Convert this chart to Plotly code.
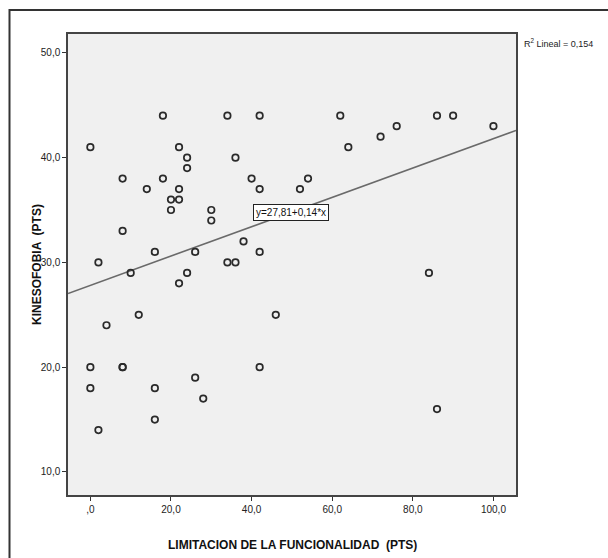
import plotly.graph_objects as go

# Data
limitacion = [0, 0, 0, 2, 2, 4, 8, 8, 8, 8, 10, 12, 14, 16, 16, 16, 18, 18, 20, 20,
              22, 22, 22, 22, 24, 24, 24, 26, 26, 28, 30, 30, 34, 34, 36, 36, 38, 40,
              42, 42, 42, 42, 46, 52, 54, 62, 64, 72, 76, 84, 86, 86, 90, 100]
kinesofobia = [41, 20, 18, 30, 14, 24, 38, 33, 20, 20, 29, 25, 37, 31, 18, 15, 44, 38, 36, 35,
               41, 37, 36, 28, 40, 39, 29, 31, 19, 17, 35, 34, 44, 30, 40, 30, 32, 38,
               44, 37, 31, 20, 25, 37, 38, 44, 41, 42, 43, 29, 44, 16, 44, 43]

intercept = 27.81
slope = 0.14
r2_text = "R<sup>2</sup> Lineal = 0,154"
eq_text = "y=27,81+0,14*x"

x_tickvals = [0, 20, 40, 60, 80, 100]
x_ticktext = [",0", "20,0", "40,0", "60,0", "80,0", "100,0"]
y_tickvals = [10, 20, 30, 40, 50]
y_ticktext = ["10,0", "20,0", "30,0", "40,0", "50,0"]

x_range = [-5.55, 105.6]
y_range = [7.8, 51.8]

fit_x = [x_range[0], x_range[1]]
fit_y = [intercept + slope * v for v in fit_x]

fig = go.Figure()
fig.add_trace(go.Scatter(
    x=fit_x, y=fit_y, mode="lines",
    line=dict(color="#6a6a6a", width=1.6), hoverinfo="skip", showlegend=False))
fig.add_trace(go.Scatter(
    x=limitacion, y=kinesofobia, mode="markers",
    marker=dict(symbol="circle-open", size=6.5, color="#2a2a2a", line=dict(width=1.7)),
    showlegend=False))

tick_font = dict(family="Liberation Sans Narrow, Liberation Sans, Arial", size=10, color="#222")
title_font = dict(family="Liberation Sans, Arial", size=12, color="#111")

fig.update_xaxes(range=x_range, tickvals=x_tickvals, ticktext=x_ticktext,
                 ticks="outside", ticklen=4, tickwidth=1.2, tickcolor="#333",
                 showgrid=False, zeroline=False, showline=True, linecolor="#444",
                 linewidth=1.5, mirror=True, tickfont=tick_font)
fig.update_yaxes(range=y_range, tickvals=y_tickvals, ticktext=y_ticktext,
                 ticks="outside", ticklen=4, tickwidth=1.2, tickcolor="#333",
                 showgrid=False, zeroline=False, showline=True, linecolor="#444",
                 linewidth=1.5, mirror=True, tickfont=tick_font)

L, R, T, B = 68, 92, 34, 63
W, H = 608, 558
pw, ph = W - L - R, H - T - B

def px(xp):
    return (xp - L) / pw

def py(yp):
    return (H - B - yp) / ph

annotations = [
    dict(text="<b>LIMITACION DE LA FUNCIONALIDAD  (PTS)</b>", xref="paper", yref="paper",
         x=0.5, y=py(545), xanchor="center", yanchor="middle", showarrow=False,
         font=title_font),
    dict(text="<b>KINESOFOBIA  (PTS)</b>", xref="paper", yref="paper",
         x=px(37), y=py(265), xanchor="center", yanchor="middle", showarrow=False,
         textangle=-90, font=title_font),
    dict(text=r2_text, xref="paper", yref="paper", x=px(522), y=py(43),
         xanchor="left", yanchor="middle", showarrow=False,
         font=dict(family="Liberation Sans Narrow, Liberation Sans, Arial", size=9, color="#222")),
    dict(text=eq_text, x=49.8, y=intercept + slope * 49.8, xref="x", yref="y",
         showarrow=False, bgcolor="white", bordercolor="#222", borderwidth=1, borderpad=2,
         font=dict(family="Liberation Sans Narrow, Liberation Sans, Arial", size=10, color="#111")),
]

shapes = [
    dict(type="rect", xref="paper", yref="paper",
         x0=px(9.5), y0=py(575), x1=px(640), y1=py(10),
         line=dict(color="#333", width=2), fillcolor="rgba(0,0,0,0)", layer="below"),
]

fig.update_layout(
    width=W, height=H, margin=dict(l=L, r=R, t=T, b=B),
    paper_bgcolor="white", plot_bgcolor="#f0f0f0",
    annotations=annotations, shapes=shapes, showlegend=False,
)

fig.write_html("out.html", config={"displayModeBar": False},
               post_script="document.body.style.margin='0';document.body.style.overflow='hidden';")
